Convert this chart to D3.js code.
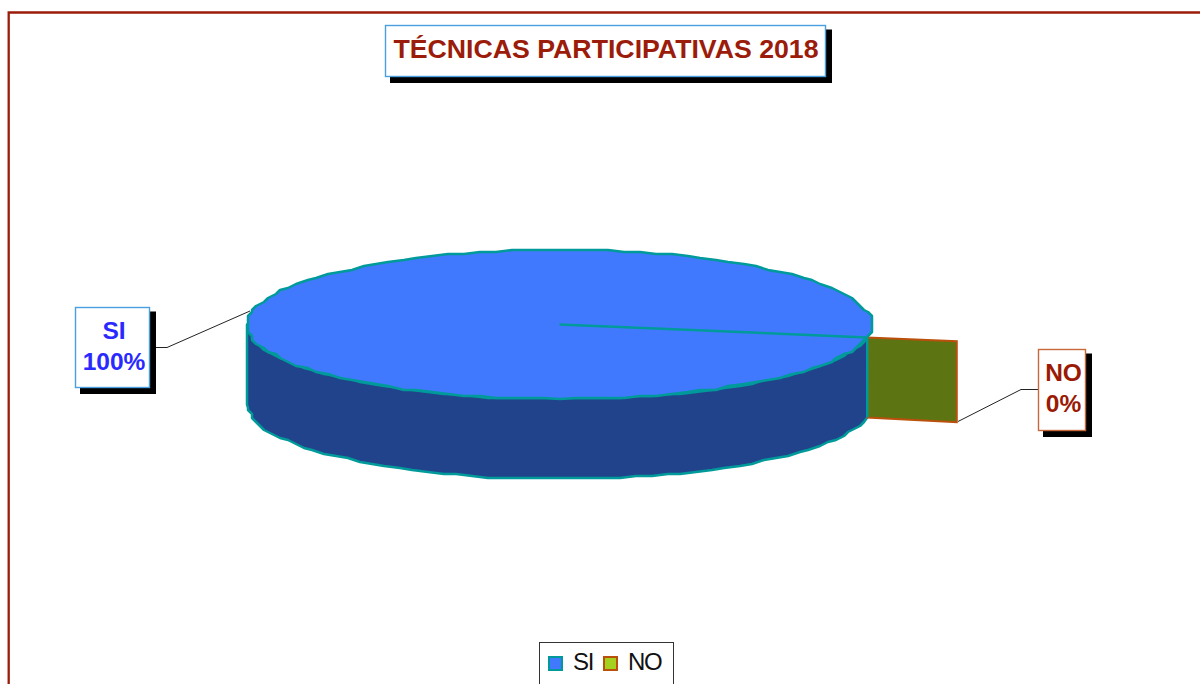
<!DOCTYPE html>
<html>
<head>
<meta charset="utf-8">
<script src="https://d3js.org/d3.v7.min.js"></script>
<style>
html,body{margin:0;padding:0;background:#fff;overflow:hidden}
svg{display:block}
text{font-family:"Liberation Sans",Arial,sans-serif}
</style>
</head>
<body>
<svg id="c" width="1200" height="684"></svg>
<script>
const chartTitle = "TÉCNICAS PARTICIPATIVAS 2018";
const categories = ["SI", "NO"];
const values = [100, 0];
const topColors = ["#4079fd", "#a4d01f"];
const sideColors = ["#21438c", "#5c7512"];
const edgeColors = ["#009a9a", "#bb4f0c"];
const labelColors = ["#2a2aff", "#9a1a05"];
const labelBoxStroke = ["#4a9fe0", "#c8683a"];

const svg = d3.select("#c");
const dark = "#9b1c0a";

// frame
svg.append("path").attr("d", "M8.7,685V12.5H1201").attr("fill", "none").attr("stroke", dark).attr("stroke-width", 2.3);

// projection of unit-disc coordinates to the page
const px = d3.scaleLinear().domain([-1, 1]).range([247, 872]);
const py = d3.scaleLinear().domain([-1, 1]).range([250, 399]);
const depth = 80;
const toXY = (a, r = 1) => [px(r * Math.sin(a)), py(-r * Math.cos(a))];
// the source picture is a low-resolution upscale: its outlines step on a coarse grid
const snap = p => [Math.max(247, Math.min(872, Math.round(p[0] / 4) * 4)), Math.max(250, Math.min(399, Math.round(p[1] / 2) * 2))];
const line = d3.line();

const firstAngle = Math.PI / 2 + 0.175;
const pie = d3.pie().sort(null).startAngle(firstAngle).endAngle(firstAngle + 2 * Math.PI)(values);
const spoke = pie[0].startAngle;
const step = Math.PI / 60;

// side wall, from the spoke round the front to the west point
const westAngle = 3 * Math.PI / 2;
const front = d3.range(spoke + step, westAngle, step).map(a => snap(toXY(a)));
const frontFull = [toXY(spoke), ...front, toXY(westAngle)];
const wall = frontFull.concat(frontFull.slice().reverse().map(p => [p[0], p[1] + depth]));
svg.append("path").attr("d", line(wall) + "Z")
  .attr("fill", sideColors[0]).attr("stroke", edgeColors[0]).attr("stroke-width", 2.5).attr("stroke-linejoin", "round");

// NO slice: zero width, so only its cut face shows, pulled out radially
const rOut = 1.291;
const a0 = toXY(pie[1].startAngle), a1 = toXY(pie[1].startAngle, rOut);
svg.append("path").attr("d", line([a0, a1, [a1[0], a1[1] + depth + 1], [a0[0], a0[1] + depth]]) + "Z")
  .attr("fill", sideColors[1]).attr("stroke", edgeColors[1]).attr("stroke-width", 2);
svg.append("path").attr("d", line([a0, [a0[0], a0[1] + depth]]))
  .attr("fill", "none").attr("stroke", edgeColors[0]).attr("stroke-width", 2.5);

// top face
const rim = d3.range(0, 2 * Math.PI, step).map(a => snap(toXY(a)));
svg.append("path").attr("d", line(rim) + "Z")
  .attr("fill", topColors[0]).attr("stroke", edgeColors[0]).attr("stroke-width", 2.5).attr("stroke-linejoin", "round");
svg.append("path").attr("d", line([toXY(0, 0), toXY(spoke)]))
  .attr("fill", "none").attr("stroke", edgeColors[0]).attr("stroke-width", 2.5);

// boxed text helper
function box(x, y, w, h, stroke) {
  svg.append("rect").attr("x", x + 5).attr("y", y + 4.5).attr("width", w + 2).attr("height", h + 2.5).attr("fill", "#000");
  svg.append("rect").attr("x", x + .5).attr("y", y + .5).attr("width", w).attr("height", h).attr("fill", "#fff").attr("stroke", stroke).attr("stroke-width", 1.4);
}

// title
box(385, 25, 440, 51, labelBoxStroke[0]);
svg.append("text").attr("x", 606).attr("y", 58).attr("text-anchor", "middle")
  .attr("font-size", 26.7).attr("font-weight", "bold").attr("fill", dark).text(chartTitle);

// leaders
svg.append("path").attr("d", line([[156, 347.5], [167, 347.5], [250, 311]])).attr("fill", "none").attr("stroke", "#222").attr("stroke-width", 1);
svg.append("path").attr("d", line([[958, 421.5], [1021, 389.5], [1038, 389.5]])).attr("fill", "none").attr("stroke", "#222").attr("stroke-width", 1);

// data labels
const labelBoxes = [[75, 307, 74, 80], [1038, 349, 47, 81]];
const total = d3.sum(values);
categories.forEach((c, i) => {
  const [x, y, w, h] = labelBoxes[i];
  box(x, y, w, h, labelBoxStroke[i]);
  const g = svg.append("g").attr("text-anchor", "middle").attr("font-size", 24.5).attr("font-weight", "bold").attr("fill", labelColors[i]);
  g.append("text").attr("x", x + w / 2 + 2).attr("y", y + 31.5).text(c);
  g.append("text").attr("x", x + w / 2 + 2).attr("y", y + 62.5).text(d3.format(".0%")(values[i] / total));
});

// legend
svg.append("rect").attr("x", 539.5).attr("y", 642.5).attr("width", 134).attr("height", 60).attr("fill", "#fff").attr("stroke", "#333").attr("stroke-width", 1);
const legendX = [549, 604];
categories.forEach((c, i) => {
  svg.append("rect").attr("x", legendX[i]).attr("y", 657).attr("width", 13).attr("height", 13)
    .attr("fill", topColors[i]).attr("stroke", edgeColors[i]).attr("stroke-width", 2);
  svg.append("text").attr("x", legendX[i] + 24).attr("y", 670).attr("font-size", 24).attr("letter-spacing", -1.3).attr("fill", "#111").text(c);
});
</script>
</body>
</html>
